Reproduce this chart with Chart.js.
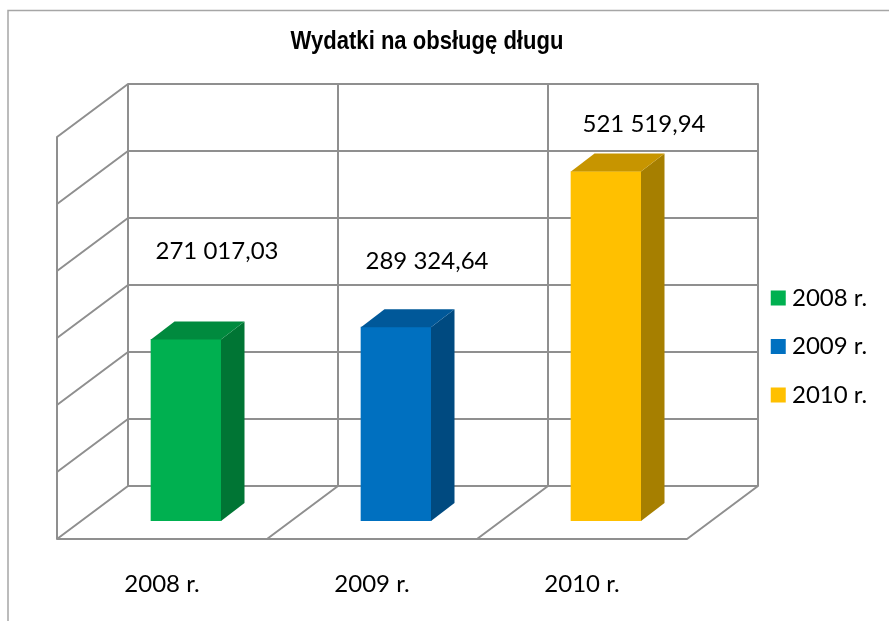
<!DOCTYPE html>
<html lang="pl">
<head>
<meta charset="utf-8">
<title>Wydatki na obsługę długu</title>
<script src="https://cdn.jsdelivr.net/npm/chart.js@4/dist/chart.umd.min.js"></script>
<style>html,body{margin:0;padding:0;background:#fff}canvas{display:block}</style>
</head>
<body>
<canvas id="c" width="889" height="621"></canvas>
<script>
const categories = ['2008 r.', '2009 r.', '2010 r.'];
const values = [271017.03, 289324.64, 521519.94];
const valueLabels = ['271 017,03', '289 324,64', '521 519,94'];
const yTicks = [0, 100000, 200000, 300000, 400000, 500000, 600000];
const frontColors = ['#00B050', '#0070C0', '#FFC000'];
const sideColors = ['#007534', '#004A80', '#A67F00'];
const topColors = ['#008A3E', '#005899', '#C79500'];
const labelOffsets = [[31, -88], [31, -66], [38, -47]];

const GRID = '#8f8f8f';
const FONT = 'Lato, Carlito, sans-serif';
const BACK = {x: 47, y: -35};
const FRONT = {x: -24, y: 18};
const BAR_DEPTH = {x: 23.5, y: -18};
const TITLE_CENTER = 427;
const TITLE_SQUEEZE = 0.848;

function seg(ctx, x1, y1, x2, y2) { ctx.moveTo(x1, y1); ctx.lineTo(x2, y2); }

const scene3d = {
  id: 'scene3d',
  afterLayout(chart) {
    const l = chart.legend;
    l.left = 752; l.right = 889; l.top = 261.5; l.bottom = 621;
    const t = chart.titleBlock;
    const shift = TITLE_CENTER - (t.left + t.right) / 2;
    t.left += shift; t.right += shift;
    if (!t._squeezed) {
      const drawTitle = t.draw;
      t.draw = function () {
        const c = this.ctx;
        c.save();
        c.translate(TITLE_CENTER, 0);
        c.scale(TITLE_SQUEEZE, 1);
        c.translate(-TITLE_CENTER, 0);
        drawTitle.call(this);
        c.restore();
      };
      t._squeezed = true;
    }
  },
  beforeDatasetsDraw(chart) {
    const {ctx, scales: {x, y}, chartArea: a} = chart;
    const cell = a.width / categories.length;
    const bx = a.left + BACK.x, bxr = a.right + BACK.x;
    const fx = a.left + FRONT.x, fxr = a.right + FRONT.x;
    ctx.save();
    // outer frame
    ctx.strokeStyle = '#a6a6a6'; ctx.lineWidth = 1.5;
    ctx.beginPath(); ctx.moveTo(8, 621); ctx.lineTo(8, 10.5); ctx.lineTo(889, 10.5); ctx.stroke();
    // walls and floor
    ctx.strokeStyle = GRID; ctx.lineWidth = 2; ctx.lineCap = 'round';
    ctx.beginPath();
    yTicks.forEach(v => {
      const p = y.getPixelForValue(v);
      seg(ctx, bx, p + BACK.y, bxr, p + BACK.y);
      seg(ctx, bx, p + BACK.y, fx, p + FRONT.y);
    });
    const yb = y.getPixelForValue(0), yt = y.getPixelForValue(yTicks[yTicks.length - 1]);
    for (let i = 0; i <= categories.length; i++) {
      const xx = a.left + cell * i;
      seg(ctx, xx + BACK.x, yt + BACK.y, xx + BACK.x, yb + BACK.y);
      seg(ctx, xx + BACK.x, yb + BACK.y, xx + FRONT.x, yb + FRONT.y);
    }
    seg(ctx, fx, yt + FRONT.y, fx, yb + FRONT.y);
    seg(ctx, fx, yb + FRONT.y, fxr, yb + FRONT.y);
    ctx.stroke();
    ctx.restore();
  },
  afterDatasetsDraw(chart) {
    const {ctx} = chart;
    const bars = chart.getDatasetMeta(0).data;
    ctx.save();
    bars.forEach((b, i) => {
      const l = b.x - b.width / 2, r = b.x + b.width / 2, t = b.y, base = b.base;
      ctx.fillStyle = sideColors[i];
      ctx.beginPath();
      ctx.moveTo(r, t); ctx.lineTo(r + BAR_DEPTH.x, t + BAR_DEPTH.y);
      ctx.lineTo(r + BAR_DEPTH.x, base + BAR_DEPTH.y); ctx.lineTo(r, base);
      ctx.closePath(); ctx.fill();
      ctx.fillStyle = topColors[i];
      ctx.beginPath();
      ctx.moveTo(l, t); ctx.lineTo(l + BAR_DEPTH.x, t + BAR_DEPTH.y);
      ctx.lineTo(r + BAR_DEPTH.x, t + BAR_DEPTH.y); ctx.lineTo(r, t);
      ctx.closePath(); ctx.fill();
    });
    ctx.fillStyle = '#000';
    ctx.font = '24px ' + FONT;
    ctx.textAlign = 'center';
    ctx.textBaseline = 'middle';
    bars.forEach((b, i) => {
      ctx.fillText(valueLabels[i], b.x + labelOffsets[i][0], b.y + labelOffsets[i][1]);
    });
    ctx.restore();
  }
};

new Chart(document.getElementById('c'), {
  type: 'bar',
  data: {
    labels: categories,
    datasets: [{
      label: 'Wydatki na obsługę długu',
      data: values,
      backgroundColor: frontColors,
      barThickness: 70,
      borderWidth: 0
    }]
  },
  plugins: [scene3d],
  options: {
    responsive: false,
    animation: false,
    devicePixelRatio: 1,
    layout: {padding: {left: 81, right: 178, top: 0, bottom: 0}},
    scales: {
      x: {
        afterFit: s => { s.height = 100; },
        grid: {display: false, drawTicks: false},
        border: {display: false},
        ticks: {color: '#000', font: {family: FONT, size: 24}, padding: 48.5, labelOffset: -24, maxRotation: 0}
      },
      y: {display: false, min: 0, max: 600000}
    },
    plugins: {
      title: {
        display: true,
        text: 'Wydatki na obsługę długu',
        color: '#000',
        font: {family: '"Liberation Sans", Arial, sans-serif', size: 26, weight: 'bold'},
        padding: {top: 26.6, bottom: 61.2}
      },
      legend: {
        position: 'chartArea',
        align: 'start',
        labels: {
          color: '#000',
          font: {family: FONT, size: 24},
          padding: 24.5,
          usePointStyle: true,
          boxWidth: 3.5,
          boxHeight: 15,
          generateLabels: () => categories.map((c, i) => ({
            text: c, fillStyle: frontColors[i], strokeStyle: frontColors[i],
            lineWidth: 0, pointStyle: 'rect', hidden: false, index: i
          }))
        }
      },
      tooltip: {enabled: false}
    }
  }
});
</script>
</body>
</html>
